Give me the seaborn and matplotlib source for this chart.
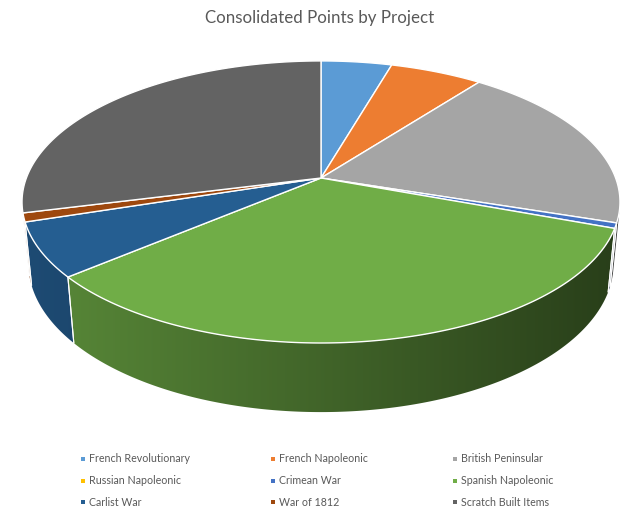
import numpy as np
import matplotlib
matplotlib.use("Agg")
import matplotlib.pyplot as plt
import seaborn as sns
from matplotlib.patches import Polygon

# ---- data ----
categories = ["French Revolutionary", "French Napoleonic", "British Peninsular",
              "Russian Napoleonic", "Crimean War", "Spanish Napoleonic",
              "Carlist War", "War of 1812", "Scratch Built Items"]
points = [45, 59, 196, 0, 6, 332, 62, 10, 289]
colors = ["#5B9BD5", "#ED7D31", "#A5A5A5", "#FFC000", "#4472C4",
          "#70AD47", "#255E91", "#9E480E", "#636363"]
title = "Consolidated Points by Project"

sns.set_theme(style="white")
plt.rcParams['font.family'] = ['Lato', 'DejaVu Sans']

fig = plt.figure(figsize=(6.4, 5.17), dpi=100)
ax = fig.add_axes([0, 0, 1, 1])
ax.set_xlim(0, 640)
ax.set_ylim(517, 0)
ax.axis('off')

# ---- 3D perspective camera for the pie ----
CX, CY = 321, 178
phi = np.deg2rad(27.7)
D = 5.21
FL = 1535
H = 0.239


def project(theta, z):
    u = np.sin(theta)
    v = np.cos(theta)
    depth = D + v * np.cos(phi) - z * np.sin(phi)
    x = CX + FL * u / depth
    y = CY - FL * (v * np.sin(phi) + z * np.cos(phi)) / depth
    return x, y


vals = np.array(points, dtype=float)
cum = np.concatenate([[0], np.cumsum(vals)]) / vals.sum() * 2 * np.pi

# visible side range
lo = np.arccos(-1.0 / (D * np.cos(phi)))
hi = 2 * np.pi - lo

# side walls with horizontal shading gradient
bounds = []
for i in range(len(vals)):
    t1, t2 = cum[i], cum[i + 1]
    a, b = max(t1, lo), min(t2, hi)
    if b <= a:
        continue
    n = max(4, int(np.degrees(b - a) / 0.5))
    ts = np.linspace(a, b, n + 1)
    xt, yt = project(ts, 0)
    xb, yb = project(ts[::-1], -H)
    px = np.concatenate([xt, xb])
    py = np.concatenate([yt, yb])
    poly = Polygon(np.column_stack([px, py]), closed=True,
                   facecolor="none", edgecolor="none")
    ax.add_patch(poly)
    base = np.array(matplotlib.colors.to_rgb(colors[i]))
    x0, x1 = px.min() - 1, px.max() + 1
    y0, y1 = py.min() - 1, py.max() + 1
    cols = np.linspace(x0, x1, 256)
    um = np.clip((cols - CX) / 299.0, -1, 1)
    f = 0.58 - 0.22 * um
    img = np.clip(base[None, :] * f[:, None], 0, 1)[None, :, :]
    im = ax.imshow(img, extent=(x0, x1, y1, y0), aspect="auto",
                   interpolation="bilinear", zorder=1)
    im.set_clip_path(poly)
    for t in (t1, t2):
        if lo < t < hi:
            bounds.append(t)

ax.set_xlim(0, 640)
ax.set_ylim(517, 0)

for t in bounds:
    xa, ya = project(t, 0)
    xb_, yb_ = project(t, -H)
    ax.plot([xa, xb_], [ya, yb_], color="white", lw=0.8, zorder=2)

# top face wedges
for i in range(len(vals)):
    t1, t2 = cum[i], cum[i + 1]
    if t2 - t1 <= 0:
        continue
    n = max(2, int(np.degrees(t2 - t1) / 0.5))
    ts = np.linspace(t1, t2, n + 1)
    xs, ys = project(ts, 0)
    px = np.concatenate([[CX], xs])
    py = np.concatenate([[CY], ys])
    ax.fill(px, py, facecolor=colors[i], edgecolor="white", lw=1.0,
            joinstyle="round", zorder=3)

# title
ax.text(320, 18, title, ha="center", va="center", fontsize=12.2,
        color="#595959")

# legend (row-wise, 3 columns)
col_x = [83, 273, 455]
row_y = [459, 481, 502]
for i, lab in enumerate(categories):
    r, c = divmod(i, 3)
    ax.scatter([col_x[c]], [row_y[r]], marker="s", s=9, color=colors[i],
               linewidths=0, zorder=4)
    ax.text(col_x[c] + 6, row_y[r], lab, ha="left", va="center",
            fontsize=7.7, color="#595959")

fig.savefig("out.png", dpi=100)
